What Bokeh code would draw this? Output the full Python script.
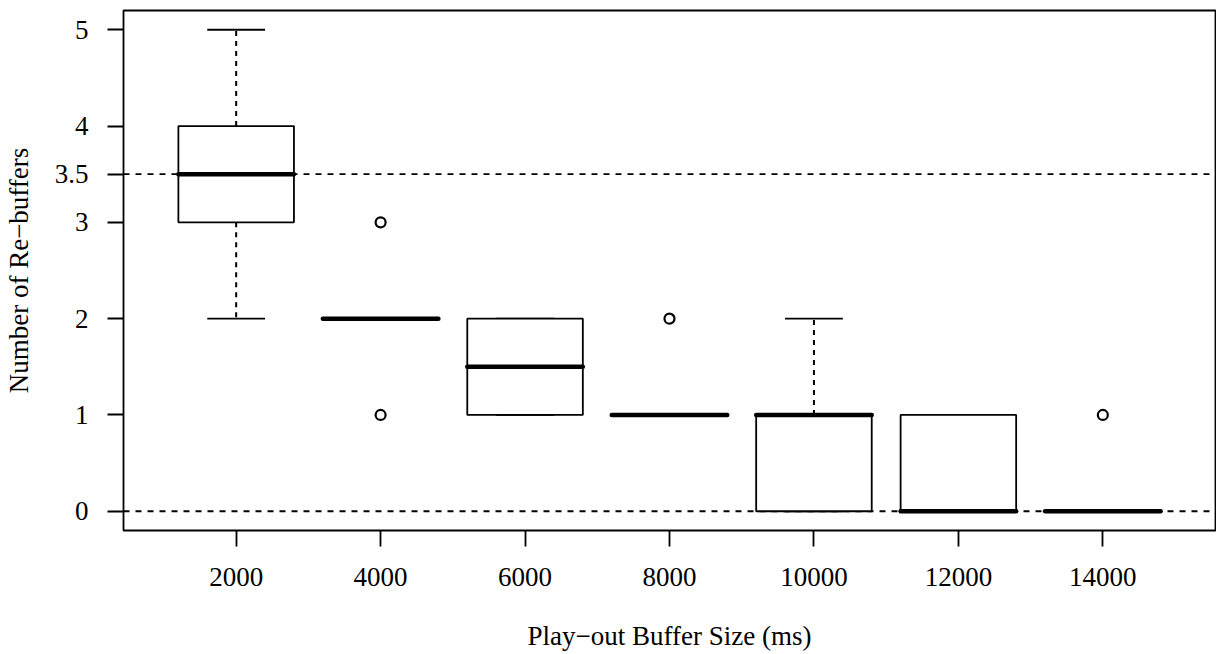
from bokeh.plotting import figure
from bokeh.models import FixedTicker, Span, Range1d, ColumnDataSource
from bokeh.embed import file_html
from bokeh.resources import INLINE

# ---- data ----
buffer_sizes = [2000, 4000, 6000, 8000, 10000, 12000, 14000]
lower_whisker = [2, 2, 1, 1, 0, 0, 0]
q1 = [3, 2, 1, 1, 0, 0, 0]
median = [3.5, 2, 1.5, 1, 1, 0, 0]
q3 = [4, 2, 2, 1, 1, 1, 0]
upper_whisker = [5, 2, 2, 1, 2, 1, 0]
outlier_x = [4000, 4000, 8000, 14000]
outlier_y = [3, 1, 2, 1]
y_ticks = [0, 1, 2, 3, 3.5, 4, 5]
ref_levels = [3.5, 0]

box_w = 1600
cap_w = 800

FONT = "Liberation Serif"

p = figure(width=1216, height=654, output_backend="svg", toolbar_location=None,
           x_range=Range1d(440, 15560), y_range=Range1d(-0.2, 5.2),
           min_border_left=122, min_border_top=10, min_border_bottom=124,
           min_border_right=1)
p.grid.visible = False
p.outline_line_color = "black"
p.outline_line_width = 1.8
p.background_fill_color = "white"
p.border_fill_color = "white"

src = ColumnDataSource(dict(
    x=buffer_sizes,
    x0=[x - box_w / 2 for x in buffer_sizes],
    x1=[x + box_w / 2 for x in buffer_sizes],
    c0=[x - cap_w / 2 for x in buffer_sizes],
    c1=[x + cap_w / 2 for x in buffer_sizes],
    lw=lower_whisker, q1=q1, med=median, q3=q3, uw=upper_whisker,
))

# reference lines
for lv in ref_levels:
    p.add_layout(Span(location=lv, dimension="width", line_color="black",
                      line_dash="6 6", line_width=1.8, level="underlay"))

# whiskers (dashed)
p.segment(x0="x", y0="q3", x1="x", y1="uw", source=src, line_color="black",
          line_dash="5 5", line_width=2)
p.segment(x0="x", y0="q1", x1="x", y1="lw", source=src, line_color="black",
          line_dash="5 5", line_width=2)
# caps
p.segment(x0="c0", y0="uw", x1="c1", y1="uw", source=src, line_color="black", line_width=1.8)
p.segment(x0="c0", y0="lw", x1="c1", y1="lw", source=src, line_color="black", line_width=1.8)
# boxes
p.quad(left="x0", right="x1", bottom="q1", top="q3", source=src,
       fill_color="white", line_color="black", line_width=1.8)
# medians
p.segment(x0="x0", y0="med", x1="x1", y1="med", source=src, line_color="black",
          line_width=4.5, line_cap="round")
# outliers
p.scatter(outlier_x, outlier_y, size=10, marker="circle", fill_color="white",
          line_color="black", line_width=2.2)

# axes
p.xaxis.ticker = FixedTicker(ticks=buffer_sizes)
p.yaxis.ticker = FixedTicker(ticks=y_ticks)
p.yaxis.major_label_overrides = {0: "0", 1: "1", 2: "2", 3: "3", 3.5: "3.5", 4: "4", 5: "5"}
for ax in (p.xaxis[0], p.yaxis[0]):
    ax.axis_line_color = None
    ax.major_tick_line_color = "black"
    ax.major_tick_line_width = 1.8
    ax.major_tick_out = 16
    ax.major_tick_in = 0
    ax.minor_tick_line_color = None
    ax.major_label_text_font = FONT
    ax.major_label_text_font_size = "27px"
    ax.major_label_text_color = "black"
    ax.axis_label_text_font = FONT
    ax.axis_label_text_font_size = "27px"
    ax.axis_label_text_font_style = "normal"
    ax.axis_label_text_color = "black"

p.xaxis.axis_label = "Play\u2212out Buffer Size (ms)"
p.yaxis.axis_label = "Number of Re\u2212buffers"
p.yaxis.major_label_orientation = "horizontal"
p.xaxis.major_label_standoff = 21
p.yaxis.major_label_standoff = 19
p.xaxis.axis_label_standoff = 32
p.yaxis.axis_label_standoff = 18

open("out.html", "w").write(file_html(p, INLINE))
